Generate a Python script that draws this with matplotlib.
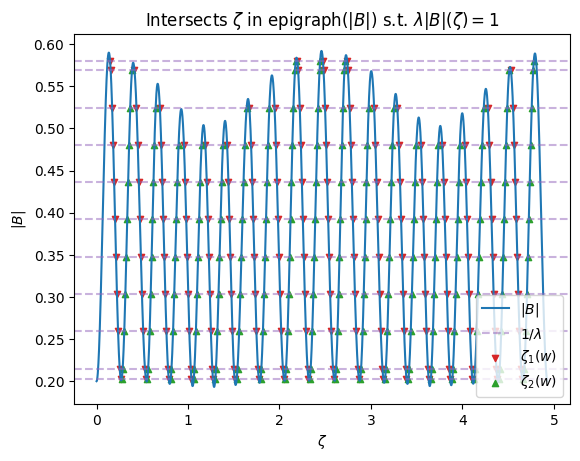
import numpy as np
import matplotlib
matplotlib.use("Agg")
import matplotlib.pyplot as plt

# extrema of |B| (zeta, value), peaks and troughs alternate
peak_zeta = [0.134, 0.400, 0.668, 0.926, 1.169, 1.405, 1.656, 1.917, 2.186, 2.459,
             2.727, 3.003, 3.270, 3.522, 3.758, 3.998, 4.256, 4.521, 4.793]
peak_B = [0.590, 0.578, 0.553, 0.523, 0.504, 0.509, 0.535, 0.563, 0.584, 0.592,
          0.587, 0.568, 0.541, 0.513, 0.503, 0.518, 0.547, 0.573, 0.589]
trough_zeta = [0.0, 0.269, 0.548, 0.800, 1.050, 1.285, 1.520, 1.783, 2.055, 2.324,
               2.603, 2.876, 3.145, 3.399, 3.643, 3.878, 4.118, 4.390, 4.660, 4.930]
trough_B = [0.2000, 0.2010, 0.1995, 0.1968, 0.1942, 0.1932, 0.1955, 0.1982, 0.2005, 0.2005,
            0.2005, 0.2005, 0.1982, 0.1968, 0.1942, 0.1952, 0.1970, 0.1990, 0.2005, 0.2000]

# 1/lambda levels (dashed lines)
inv_lambda = [0.2031, 0.215, 0.259, 0.303, 0.347, 0.392, 0.436, 0.480, 0.524, 0.5695, 0.580]


def build_curve(n_per_seg=60):
    """Smooth |B| through the extrema with half-cosine segments."""
    ez, eb = [], []
    for i in range(len(peak_zeta)):
        ez += [trough_zeta[i], peak_zeta[i]]
        eb += [trough_B[i], peak_B[i]]
    ez.append(trough_zeta[-1])
    eb.append(trough_B[-1])
    zs, bs = [], []
    for k in range(len(ez) - 1):
        t = np.linspace(0, 1, n_per_seg, endpoint=False)
        zs.append(ez[k] + (ez[k + 1] - ez[k]) * t)
        bs.append(eb[k] + (eb[k + 1] - eb[k]) * (1 - np.cos(np.pi * t)) / 2)
    zs.append([ez[-1]])
    bs.append([eb[-1]])
    return np.concatenate(zs), np.concatenate(bs)


def intersects(z, b, level):
    """Return (zeta1, zeta2): downward and upward crossings forming wells."""
    d = b - level
    idx = np.where(np.sign(d[:-1]) != np.sign(d[1:]))[0]
    down, up = [], []
    for i in idx:
        zc = z[i] - d[i] * (z[i + 1] - z[i]) / (d[i + 1] - d[i])
        (down if d[i] > 0 else up).append(zc)
    # drop an upward crossing with no well before it and a downward one with none after
    if up and down and up[0] < down[0]:
        up = up[1:]
    if down and (not up or down[-1] > up[-1]):
        down = down[:-1]
    return np.array(down), np.array(up)


zeta, B = build_curve()

fig, ax = plt.subplots(figsize=(6.4, 4.8), dpi=100)
ax.plot(zeta, B, color="C0", label=r"$|B|$")

for i, lvl in enumerate(inv_lambda):
    ax.axhline(lvl, color="C4", alpha=0.5, linestyle="--",
               label=r"$1/\lambda$" if i == 0 else None)

for i, lvl in enumerate(inv_lambda):
    z1, z2 = intersects(zeta, B, lvl)
    ax.scatter(z1, np.full(len(z1), lvl), marker="v", color="C3", s=20,
               label=r"$\zeta_1(w)$" if i == 0 else None)
    ax.scatter(z2, np.full(len(z2), lvl), marker="^", color="C2", s=20,
               label=r"$\zeta_2(w)$" if i == 0 else None)

ax.set_title(r"Intersects $\zeta$ in epigraph($|B|$) s.t. $\lambda|B|(\zeta) = 1$")
ax.set_xlabel(r"$\zeta$")
ax.set_ylabel(r"$|B|$")
ax.legend(loc="lower right")

fig.savefig("out.png", bbox_inches="tight")
